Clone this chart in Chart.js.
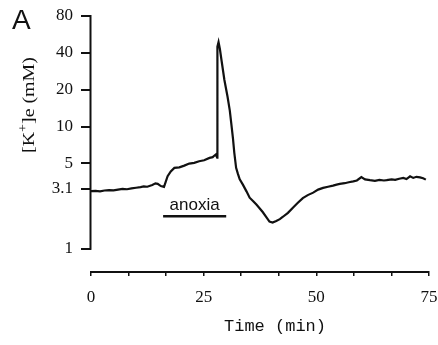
<!DOCTYPE html>
<html><head><meta charset="utf-8">
<script src="https://cdn.jsdelivr.net/npm/chart.js@4/dist/chart.umd.min.js"></script>
<style>html,body{margin:0;padding:0;background:#fff}#wrap{width:438px;height:345px;position:relative}</style>
</head><body><div id="wrap"><canvas id="c" width="438" height="345"></canvas></div>
<script>
// Time (min)
const timeMin = [0,1,2,3,4,5,6,7,8,9,10,11,11.7,12.5,13.6,14.3,14.8,15.5,16.2,17.0,17.7,18.5,19.6,20.7,21.8,22.9,24.0,25.1,26.3,27.0,27.4,27.7,28.0,
  28.05,28.3,28.6,29.0,29.6,30.3,30.8,31.1,31.5,31.8,32.2,32.6,33.0,33.7,34.5,35.2,36.0,36.7,37.4,38.1,38.9,39.6,40.3,41.1,41.9,42.6,43.7,44.8,45.9,47.0,48.1,49.3,50.4,51.5,52.6,53.7,54.5,55.2,56.3,57.2,58.2,59.0,60.0,60.8,61.9,63.0,64.0,65.0,65.6,66.7,67.5,68.4,69.3,70.0,70.8,71.5,72.2,73.0,73.7,74.3];
// [K+]e (mM)
const kValues = [2.96,2.98,2.95,3.00,3.02,3.01,3.05,3.09,3.07,3.12,3.16,3.20,3.24,3.22,3.33,3.43,3.40,3.26,3.21,3.92,4.30,4.59,4.64,4.79,4.98,5.05,5.20,5.30,5.54,5.62,5.79,5.90,5.57,
  45,49,43,34,24,17.5,13.5,10.8,8.0,6.1,4.6,4.1,3.7,3.35,2.95,2.62,2.45,2.30,2.15,2.0,1.82,1.67,1.64,1.69,1.75,1.83,1.97,2.17,2.38,2.60,2.75,2.88,3.05,3.15,3.22,3.29,3.35,3.40,3.44,3.50,3.56,3.62,3.86,3.70,3.64,3.60,3.66,3.62,3.64,3.70,3.66,3.74,3.80,3.72,3.92,3.80,3.88,3.84,3.78,3.68];
const xTickValues = [0,25/3,50/3,25,100/3,125/3,50,175/3,200/3,75];
const xTickLabels = ['0','','','25','','','50','','','75'];
const yTickValues = [1,3.1,5,10,20,40,80];
const yTickLabels = ['1','3.1','5','10','20','40','80'];
const anoxiaSpan = [16,30];
const anoxiaLevel = [1.85,1.85];

const extras = {
  id:'extras',
  afterDraw(chart){
    const ctx = chart.ctx, xs = chart.scales.x, ys = chart.scales.y;
    ctx.save();
    ctx.strokeStyle = '#111'; ctx.lineWidth = 2;
    ctx.beginPath();
    const ax = chart.chartArea.left - 0.5;
    ctx.moveTo(ax, ys.getPixelForValue(yTickValues[yTickValues.length-1]) - 1);
    ctx.lineTo(ax, ys.getPixelForValue(yTickValues[0]) + 1);
    ctx.stroke();
    ctx.fillStyle = '#111';
    ctx.font = '28px "Liberation Sans", Arial, sans-serif';
    ctx.textBaseline = 'alphabetic'; ctx.textAlign = 'left';
    ctx.fillText('A', 12, 29);
    ctx.font = '17px "Liberation Sans", Arial, sans-serif';
    ctx.textAlign = 'center';
    ctx.fillText('anoxia', xs.getPixelForValue((anoxiaSpan[0]+anoxiaSpan[1])/2), ys.getPixelForValue(anoxiaLevel[0]) - 6);
    // x title
    ctx.font = '17px "Liberation Mono", "Courier New", monospace';
    ctx.textBaseline = 'middle';
    ctx.fillText('Time (min)', 275, 326);
    ctx.textBaseline = 'alphabetic';
    // y title
    ctx.translate(34, 105);
    ctx.rotate(-Math.PI/2);
    ctx.textAlign = 'left';
    const big = '17px "Liberation Serif", "Times New Roman", serif';
    const sml = '12px "Liberation Serif", "Times New Roman", serif';
    const parts = [['[K',big,0],['+',sml,-7],[']e',big,0],[' (mM)',big,0]];
    let total = 0;
    parts.forEach(p=>{ctx.font=p[1]; total += ctx.measureText(p[0]).width;});
    const sc = 96/total;
    ctx.scale(sc,1);
    let cx = -total/2;
    parts.forEach(p=>{ctx.font=p[1]; ctx.fillText(p[0], cx, p[2]); cx += ctx.measureText(p[0]).width;});
    ctx.restore();
  }
};

new Chart(document.getElementById('c'), {
  type:'line',
  data:{
    datasets:[
      {data: timeMin.map((t,i)=>({x:t,y:kValues[i]})), borderColor:'#111', borderWidth:2.2, pointRadius:0, tension:0, fill:false},
      {data: anoxiaSpan.map((t,i)=>({x:t,y:anoxiaLevel[i]})), borderColor:'#111', borderWidth:2.5, pointRadius:0, fill:false}
    ]
  },
  options:{
    responsive:false, devicePixelRatio:1, animation:false,
    layout:{padding:{top:16,right:9,left:0,bottom:0}},
    plugins:{legend:{display:false}, tooltip:{enabled:false}},
    scales:{
      x:{
        type:'linear', min:0, max:75, bounds:'data',
        afterBuildTicks(s){ s.ticks = xTickValues.map(v=>({value:v})); },
        afterFit(s){ s.height = 73; s.paddingLeft = 0; s.paddingRight = 0; },
        grid:{drawOnChartArea:false, drawTicks:true, tickLength:4, color:'#111', lineWidth:1.5},
        border:{display:true, color:'#111', width:2},
        ticks:{autoSkip:false, maxRotation:0, padding:11, color:'#111',
          font:{family:'"Liberation Serif", "Times New Roman", serif', size:17},
          callback:(v,i)=>xTickLabels[i]},
        title:{display:false}
      },
      y:{
        type:'logarithmic', min:0.647, max:80, bounds:'data',
        afterBuildTicks(s){ s.ticks = yTickValues.map(v=>({value:v})); },
        afterFit(s){ s.width = 91; s.paddingTop = 0; s.paddingBottom = 0; },
        grid:{drawOnChartArea:false, drawTicks:true, tickLength:10, color:'#111', lineWidth:2},
        border:{display:false},
        ticks:{autoSkip:false, padding:8, color:'#111',
          font:{family:'"Liberation Serif", "Times New Roman", serif', size:17},
          callback:(v,i)=>yTickLabels[i]}
      }
    }
  },
  plugins:[extras]
});
</script></body></html>
